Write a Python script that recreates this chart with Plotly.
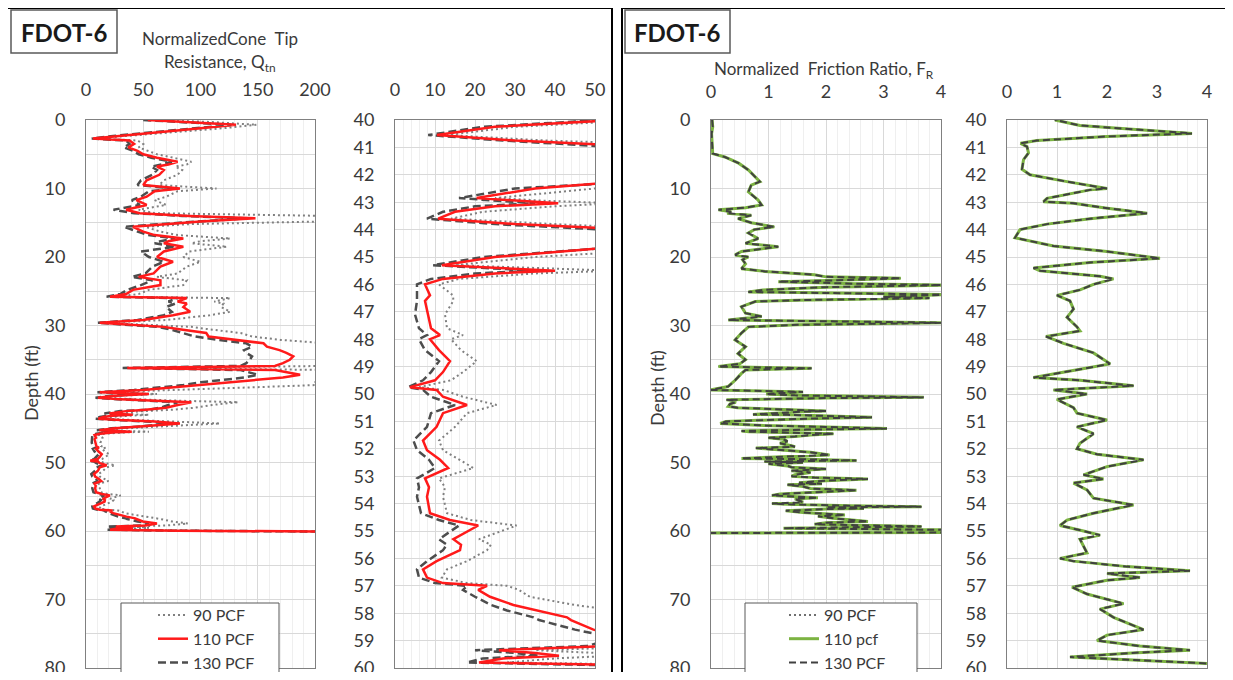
import plotly.graph_objects as go

W, H = 1233, 680

# ---------------- Data: Normalized cone tip resistance Qtn ----------------
depth_q = [0.0, 0.3, 0.7, 1.2, 1.8, 2.3, 2.7, 3.0, 3.5, 4.0, 4.5, 5.0, 5.5, 6.1, 6.5, 6.8, 7.3, 8.0, 8.8, 9.5,
           10.0, 10.4, 11.2, 11.7, 12.4, 13.1, 13.6, 14.0, 14.35, 14.8, 15.2, 15.6, 16.3, 16.8, 17.3, 17.7, 18.0, 18.5, 19.2,
           20.0, 20.7, 21.4, 22.4, 22.9, 23.4, 24.1, 24.8, 25.4, 25.8, 26.0, 26.5, 26.8, 27.3, 28.0, 28.5, 29.2, 29.6,
           30.0, 30.2, 30.5, 30.9, 31.1, 31.6, 32.1, 32.6, 33.1, 33.6, 34.0, 34.5, 35.0, 35.5, 35.9, 36.2, 36.5, 36.7,
           37.2, 37.6, 37.9, 38.3, 38.7, 39.0, 39.4, 39.75,
           40.0, 40.25, 40.55, 40.75, 40.95, 41.2, 41.6, 42.0, 42.3, 42.5, 42.85, 42.95, 43.04, 43.15, 43.35, 43.6, 43.8,
           44.0, 44.3, 44.7, 45.0, 45.3, 45.4, 45.5, 45.6, 45.8, 46.0, 46.4, 46.6, 47.1, 47.6, 47.85, 48.0, 48.4, 48.8,
           49.2, 49.5, 49.75, 49.85, 50.1, 50.4, 50.7, 51.2, 51.7, 52.05, 52.4, 52.7, 53.08, 53.4, 53.75, 54.35, 54.6,
           54.8, 55.3, 55.5, 55.7, 56.1, 56.4, 56.7, 56.9, 57.0, 57.15, 57.4, 57.7, 57.9, 58.15, 58.25, 58.6, 58.9, 59.2,
           59.35, 59.45, 59.55, 59.65, 59.8, 59.95, 60.05, 60.1]

qtn_110 = [54, 90, 131, 100, 60, 30, 6, 38, 42, 37, 45, 50, 62, 80, 72, 62, 68, 64, 53, 50,
           82, 60, 53, 44, 53, 35, 47, 90, 148, 100, 70, 41, 50, 60, 85, 72, 68, 85, 68,
           62, 76, 65, 59, 46, 65, 65, 41, 35, 21, 88, 80, 88, 85, 91, 76, 50, 12,
           55, 68, 80, 100, 105, 107, 130, 155, 158, 169, 175, 181, 178, 172, 165, 36, 165, 172,
           187, 172, 152, 125, 100, 80, 50, 12,
           55, 25, 10.5, 30, 60, 92, 80, 70, 52, 35, 20.4, 30, 40.8, 25, 15, 10.8, 30,
           60, 82, 50, 25, 11.7, 25, 40, 25, 12, 7.5, 8.75, 7.5, 8.3, 9, 11.25, 8.75, 11, 13.75,
           12, 10, 3.75, 10.4, 12, 18, 12, 10.4, 7, 8, 11.25, 13.3, 7.5, 8.5, 8, 8.75, 13.75,
           20.8, 14.6, 16.5, 16.25, 10.4, 7, 8, 12, 23, 20.8, 23.75, 29.6, 35.4, 43, 44, 49.6, 62, 52,
           26, 35, 41, 27, 21, 80, 200, 230]

qtn_90 = [62, 110, 149, 120, 75, 38, 8, 45, 50, 46, 55, 62, 76, 92, 88, 78, 84, 80, 68, 64,
          114, 80, 70, 60, 70, 46, 60, 210, 240, 210, 90, 52, 65, 80, 126, 100, 92, 123, 90,
          85, 100, 88, 80, 62, 88, 85, 55, 46, 26, 126, 112, 120, 118, 126, 108, 70, 15,
          75, 92, 105, 128, 135, 145, 170, 210, 215, 220, 225, 230, 228, 220, 212, 45, 212, 220,
          235, 222, 205, 200, 200, 150, 75, 15,
          62, 30, 13, 38, 75, 133, 110, 95, 75, 50, 25, 38, 55, 40, 22, 14, 40,
          80, 117, 70, 35, 15, 35, 55, 35, 16, 11, 14.5, 14.6, 12.5, 13, 17, 14, 16.5, 20.4,
          17, 14, 6, 12, 17, 25.4, 18, 15, 11, 12, 16, 19.6, 11, 12.5, 12, 13, 19,
          30.4, 21, 24, 23, 18, 13, 11.7, 18, 28, 31, 33.7, 45, 55, 62, 65, 75, 89, 70,
          35, 50, 55, 40, 28, 100, 230, 230]

qtn_130 = [50, 85, 127, 95, 55, 26, 5, 35, 38, 33, 41, 46, 57, 75, 66, 57, 62, 58, 48, 45,
           78, 55, 48, 40, 47, 24, 42, 84, 140, 94, 64, 33, 45, 54, 78, 65, 60, 78, 48,
           55, 68, 58, 52, 40, 58, 48, 36, 30, 18, 80, 72, 78, 70, 75, 68, 45, 10,
           50, 62, 72, 80, 85, 95, 115, 140, 145, 138, 140, 145, 143, 140, 135, 32, 135, 140,
           150, 138, 120, 100, 85, 68, 42, 10,
           52, 22, 8.3, 27, 55, 80, 72, 65, 55, 30, 16, 26, 35, 20, 12, 8, 25,
           52, 75, 50, 22, 9.5, 22, 35, 20, 9, 5.5, 5.5, 5.5, 5, 6, 8, 6, 7.5, 11,
           9, 7, 3.3, 7, 9, 15, 9, 8, 4.6, 5.5, 8.5, 10, 5.5, 6, 5.5, 6.5, 11,
           16, 11, 13, 12, 8, 5.5, 6, 10, 18, 17, 20, 24, 28, 34.6, 36, 45, 55, 48,
           20, 30, 36, 22, 18, 70, 200, 230]

# ---------------- Data: Normalized friction ratio FR ----------------
depth_f = [0.0, 1.0, 2.0, 3.0, 4.0, 4.9, 5.4, 6.3, 7.3, 8.3, 9.0, 9.5, 10.5, 11.2, 11.7, 12.4, 12.8, 13.1, 13.4,
           13.6, 13.9, 14.4, 15.0, 15.6, 16.0, 16.5, 17.3, 18.0, 18.5, 19.2, 19.7, 20.0, 20.4, 21.0, 21.7, 22.1,
           22.6, 22.9, 23.1, 23.4, 23.6, 23.9, 24.1, 24.4, 24.8, 25.1, 25.5, 25.8, 26.0, 26.3, 26.5, 27.25, 28.2,
           28.7, 29.2, 29.6, 29.9, 30.2, 31.1, 32.1, 33.1, 34.1, 35.0, 35.6, 36.0, 36.25, 36.5, 37.0, 38.0, 38.9,
           39.4, 39.7, 40.0, 40.2, 40.36, 40.49, 40.6, 40.75, 40.85, 40.97, 41.2, 41.45, 41.8, 42.0, 42.25, 42.45,
           42.5, 42.55, 42.86, 42.98, 43.04, 43.2, 43.4, 43.6, 43.8, 44.0, 44.3, 44.6, 44.8, 45.05, 45.2, 45.4,
           45.5, 45.7, 45.8, 46.0, 46.2, 46.4, 46.6, 46.9, 47.2, 47.55, 47.7, 47.9, 48.15, 48.5, 48.9, 49.1, 49.4,
           49.5, 49.7, 49.85, 50.0, 50.2, 50.5, 50.7, 50.95, 51.2, 51.45, 51.8, 52.0, 52.2, 52.4, 52.65, 52.95,
           53.1, 53.25, 53.5, 53.8, 54.05, 54.35, 54.6, 54.8, 55.0, 55.15, 55.3, 55.55, 55.8, 56.0, 56.1, 56.3,
           56.45, 56.55, 56.7, 56.8, 57.05, 57.3, 57.65, 57.85, 58.15, 58.6, 58.8, 59.0, 59.2, 59.35, 59.45, 59.6,
           59.7, 59.85, 60.2, 60.3]

fr_values = [0.02, 0.03, 0.01, 0.02, 0.02, 0.03, 0.24, 0.48, 0.65, 0.77, 0.85, 0.7, 0.65, 0.75, 0.82, 0.88, 0.6,
             0.13, 0.35, 0.28, 0.7, 0.47, 0.7, 1.1, 0.75, 0.65, 0.82, 0.6, 1.17, 0.53, 0.42, 0.65, 0.55, 0.6,
             0.53, 0.94, 1.8, 2.0, 3.3, 2.2, 1.17, 2.5, 4.1, 2.0, 0.9, 0.65, 4.1, 3.0, 3.8, 1.5, 0.77, 0.53,
             0.6, 0.88, 0.3, 4.1, 1.5, 0.65, 0.53, 0.42, 0.6, 0.47, 0.6, 0.5, 0.13, 1.75, 0.6, 0.53, 0.42,
             0.3, 0.0, 1.6, 0.96, 1.46, 2.66, 3.7, 2.0, 0.6, 0.27, 0.4, 0.43, 0.33, 0.3, 0.46, 1.2, 1.86,
             2.0, 1.66, 0.8, 0.73, 1.33, 1.93, 2.8, 1.66, 0.8, 0.26, 0.16, 0.93, 2.0, 3.06, 1.66, 0.53,
             0.66, 1.86, 2.13, 1.73, 1.46, 1.0, 1.26, 1.33, 1.2, 1.4, 1.46, 0.78, 1.13, 1.73, 2.06, 1.46, 0.53,
             1.46, 2.53, 0.93, 1.6, 1.0, 1.33, 1.4, 2.0, 1.4, 1.73, 1.46, 1.4, 1.8, 2.73, 2.0, 1.53,
             1.93, 1.33, 1.6, 1.73, 2.53, 1.73, 1.2, 1.06, 1.53, 1.86, 1.46, 1.53, 1.6, 1.06, 1.33, 2.4,
             3.66, 2.0, 2.66, 2.0, 1.3, 1.6, 2.33, 1.86, 2.13, 2.73, 2.0, 1.8, 2.66, 3.66, 2.5, 1.26,
             2.5, 4.2, 4.2, 0.0]
# The three unit weights plot on top of each other for FR
fr_90 = fr_values
fr_110 = fr_values
fr_130 = fr_values

qtn_ticks = [0, 50, 100, 150, 200]
qtn_zoom_ticks = [0, 10, 20, 30, 40, 50]
fr_ticks = [0, 1, 2, 3, 4]
depth_ticks = [0, 10, 20, 30, 40, 50, 60, 70, 80]
depth_zoom_ticks = list(range(40, 61))

names_q = ["90 PCF", "110 PCF", "130 PCF"]
names_f = ["90 PCF", "110 pcf", "130 PCF"]

FONT = "Lato, 'Open Sans', 'DejaVu Sans', sans-serif"
TXT = "#3a3a3a"


def px(x):
    return x / W


def py(y):
    return 1 - y / H


fig = go.Figure()

q_styles = [
    dict(color="#808080", width=2, dash="2px,3px"),
    dict(color="#ff1a1a", width=2.5, dash="solid"),
    dict(color="#4d4d4d", width=2.5, dash="8px,4px"),
]
q_data = [qtn_90, qtn_110, qtn_130]
draw_order = [0, 2, 1]
for xa, ya, show in [("x", "y", True), ("x2", "y2", False)]:
    for i in draw_order:
        fig.add_trace(go.Scatter(
            x=q_data[i], y=depth_q, mode="lines", name=names_q[i],
            line=q_styles[i], xaxis=xa, yaxis=ya, showlegend=show,
            legend="legend", legendrank=i + 1, legendgroup="q%d" % i,
        ))

f_styles = [
    dict(color="#404040", width=1.5, dash="2px,3px"),
    dict(color="#7cb342", width=3, dash="solid"),
    dict(color="#404040", width=2, dash="7px,4px"),
]
f_data = [fr_90, fr_110, fr_130]
for xa, ya, show in [("x3", "y3", True), ("x4", "y4", False)]:
    for i in range(3):
        fig.add_trace(go.Scatter(
            x=f_data[i], y=depth_f, mode="lines", name=names_f[i],
            line=f_styles[i], xaxis=xa, yaxis=ya, showlegend=show,
            legend="legend2", legendrank=i + 1, legendgroup="f%d" % i,
        ))

GRID = "#d9d9d9"
MINOR = "#efefef"
tickfont = dict(family=FONT, size=18, color=TXT)


def xax(dom, rng, tickvals, minor_dtick, anchor, standoff):
    return dict(domain=[px(dom[0]), px(dom[1])], range=rng, side="top", anchor=anchor,
                tickvals=tickvals, showgrid=True, gridcolor=GRID, gridwidth=1,
                minor=dict(dtick=minor_dtick, showgrid=True, gridcolor=MINOR, gridwidth=1),
                showline=True, mirror=True, linecolor="#808080", linewidth=1,
                ticks="", tickfont=tickfont, ticklabelstandoff=standoff, zeroline=False, fixedrange=True)


def yax(rng, tickvals, grid_dtick_minor, anchor):
    d = dict(domain=[py(668), py(120)], range=rng, anchor=anchor, tickvals=tickvals,
             showgrid=True, gridcolor=GRID, gridwidth=1,
             showline=True, mirror=True, linecolor="#808080", linewidth=1,
             ticks="", tickfont=tickfont, ticklabelstandoff=16, zeroline=False, fixedrange=True)
    if grid_dtick_minor:
        d["minor"] = dict(dtick=grid_dtick_minor, showgrid=True, gridcolor=GRID, gridwidth=1)
    return d


legend_common = dict(xanchor="left", yanchor="top", bgcolor="rgba(0,0,0,0)", borderwidth=0,
                     font=dict(family=FONT, size=16, color=TXT), tracegroupgap=5,
                     traceorder="normal", itemclick=False, itemdoubleclick=False)

fig.update_layout(
    autosize=True, margin=dict(l=0, r=0, t=0, b=0, autoexpand=False),
    paper_bgcolor="white", plot_bgcolor="white",
    xaxis=xax((86, 315), [0, 200], qtn_ticks, 10, "y", 16),
    yaxis=yax([80, 0], depth_ticks, 5, "x"),
    xaxis2=xax((395, 595), [0, 50], qtn_zoom_ticks, 2, "y2", 16),
    yaxis2=yax([60, 40], depth_zoom_ticks, None, "x2"),
    xaxis3=xax((711, 941), [0, 4], fr_ticks, 0.2, "y3", 14),
    yaxis3=yax([80, 0], depth_ticks, 5, "x3"),
    xaxis4=xax((1007, 1207), [0, 4], fr_ticks, 0.2, "y4", 14),
    yaxis4=yax([60, 40], depth_zoom_ticks, None, "x4"),
    legend=dict(x=px(153), y=py(598), **legend_common),
    legend2=dict(x=px(784), y=py(598), **legend_common),
    showlegend=True,
)

shapes = [
    # panel frames
    dict(type="rect", xref="paper", yref="paper", x0=px(7), x1=px(612), y0=py(700), y1=py(8),
         line=dict(color="black", width=2), layer="below"),
    dict(type="rect", xref="paper", yref="paper", x0=px(622), x1=px(1231), y0=py(700), y1=py(8),
         line=dict(color="black", width=2), layer="below"),
    # FDOT-6 label boxes
    dict(type="rect", xref="paper", yref="paper", x0=px(11), x1=px(117), y0=py(53), y1=py(10),
         line=dict(color="#595959", width=1.5), fillcolor="white"),
    dict(type="rect", xref="paper", yref="paper", x0=px(625), x1=px(730), y0=py(53), y1=py(10),
         line=dict(color="#595959", width=1.5), fillcolor="white"),
    # legend boxes
    dict(type="rect", xref="paper", yref="paper", x0=px(121), x1=px(279), y0=py(678), y1=py(603),
         line=dict(color="#595959", width=1), fillcolor="white", layer="above"),
    dict(type="rect", xref="paper", yref="paper", x0=px(745), x1=px(917), y0=py(678), y1=py(603),
         line=dict(color="#595959", width=1), fillcolor="white", layer="above"),
]
fig.update_layout(shapes=shapes)


def ann(text, x, y, size, angle=0, bold=False):
    return dict(text=("<b>%s</b>" % text) if bold else text, x=px(x), y=py(y), xref="paper", yref="paper",
                showarrow=False, xanchor="center", yanchor="middle", textangle=angle,
                font=dict(family=FONT, size=size, color="#1a1a1a" if bold else TXT))


fig.update_layout(annotations=[
    ann("FDOT-6", 64, 32, 24, bold=True),
    ann("FDOT-6", 677, 32, 24, bold=True),
    ann("NormalizedCone  Tip", 220, 38, 17),
    ann("Resistance, Q<sub>tn</sub>", 220, 63, 17),
    ann("Normalized\u00a0 Friction Ratio, F<sub>R</sub>", 824, 70, 17),
    ann("Depth (ft)", 31, 383, 18, angle=-90),
    ann("Depth (ft)", 657, 388, 18, angle=-90),
])

# The plot div is sized to the 1233x680 window; the negative margin cancels the
# browser's default 8px body margin so the page is exactly the window size.
fig.write_html(
    "out.html",
    config={"displayModeBar": False},
    default_width="%dpx" % W,
    default_height="%dpx; margin:-8px" % H,
    post_script="document.body.style.overflow='hidden';",
)
